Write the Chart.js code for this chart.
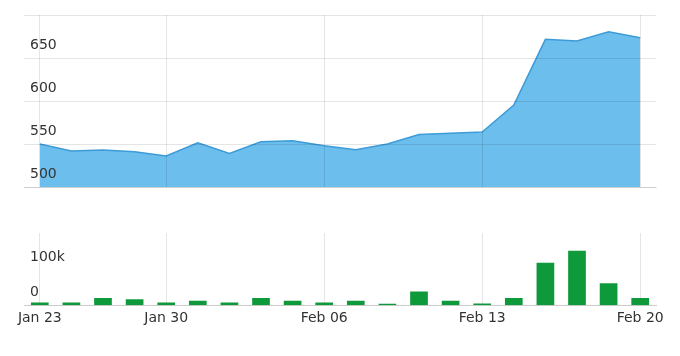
<!DOCTYPE html>
<html>
<head>
<meta charset="utf-8">
<script src="https://cdn.jsdelivr.net/npm/chart.js@4/dist/chart.umd.min.js"></script>
<style>
  html, body { margin: 0; padding: 0; background: #fff; }
  #wrap { position: relative; width: 680px; height: 356px; }
  #wrap canvas { position: absolute; left: 0; top: 0; }
</style>
</head>
<body>
<div id="wrap">
  <canvas id="price" width="680" height="356"></canvas>
  <canvas id="volume" width="680" height="356"></canvas>
</div>
<script>
// ---- data ----
const dates = ['Jan 23','Jan 24','Jan 25','Jan 26','Jan 30','Jan 31','Feb 01','Feb 02','Feb 03','Feb 06',
               'Feb 07','Feb 08','Feb 09','Feb 10','Feb 13','Feb 14','Feb 15','Feb 16','Feb 17','Feb 20'];
const xTickLabels = ['Jan 23','Jan 30','Feb 06','Feb 13','Feb 20'];
const prices = [550, 542, 543, 541, 536, 551.5, 539, 552.7, 553.8, 548,
                543.4, 550, 561, 562.4, 564, 595.3, 671.7, 669.8, 680.6, 673.6];
const volumes = [8000, 8000, 21000, 17000, 8000, 12500, 8000, 21000, 12500, 8000,
                 12500, 4000, 39500, 12500, 5000, 21000, 122000, 156000, 63000, 21000];
const priceTickLabels = [500, 550, 600, 650];
const volumeTickValues = [0, 100000, 200000];
const volumeTickLabels = ['0', '100k', ''];

// ---- style ----
const TEXT = '#333333';
const GRID = 'rgba(0,0,0,0.1)';
const isLabeled = (i) => xTickLabels.includes(dates[i]);
const W = 680, H = 356;
const LEFT = 24, RIGHT = 656;

Chart.defaults.animation = false;
Chart.defaults.font.family = 'DejaVu Sans';
Chart.defaults.font.size = 14;
Chart.defaults.color = TEXT;

new Chart(document.getElementById('price'), {
  type: 'line',
  data: {
    labels: dates,
    datasets: [{
      data: prices,
      borderColor: '#3d9bd8',
      backgroundColor: '#6cbeec',
      borderWidth: 1.5,
      pointRadius: 0,
      tension: 0,
      fill: 'start'
    }]
  },
  options: {
    responsive: false,
    layout: { padding: { left: LEFT, right: W - RIGHT, top: 15, bottom: H - 187 } },
    plugins: { legend: { display: false }, tooltip: { enabled: false } },
    scales: {
      x: {
        type: 'category',
        offset: true,
        grid: {
          offset: false,
          drawTicks: false,
          z: 1,
          color: (c) => isLabeled(c.index) ? GRID : 'rgba(0,0,0,0)'
        },
        border: { display: true, color: GRID, z: 1 },
        ticks: { display: false, autoSkip: false },
        afterFit: (s) => { s.height = 0; }
      },
      y: {
        min: 500, max: 700,
        grid: { drawTicks: false, color: GRID, z: 1 },
        border: { display: false },
        ticks: {
          stepSize: 50,
          autoSkip: false,
          mirror: true,
          padding: 6,
          labelOffset: -13,
          z: 2,
          color: TEXT,
          callback: (v) => priceTickLabels.includes(v) ? String(v) : ''
        },
        afterFit: (s) => { s.width = 0; }
      }
    }
  }
});

new Chart(document.getElementById('volume'), {
  type: 'bar',
  data: {
    labels: dates,
    datasets: [{
      data: volumes,
      backgroundColor: '#0e9a3b',
      borderWidth: 0,
      categoryPercentage: 1,
      barPercentage: 0.56
    }]
  },
  options: {
    responsive: false,
    layout: { padding: { left: LEFT, right: W - RIGHT, top: 233, bottom: 24 } },
    plugins: { legend: { display: false }, tooltip: { enabled: false } },
    scales: {
      x: {
        type: 'category',
        offset: true,
        grid: {
          offset: false,
          drawTicks: false,
          color: (c) => isLabeled(c.index) ? GRID : 'rgba(0,0,0,0)'
        },
        border: { display: true, color: '#cccccc' },
        ticks: {
          autoSkip: false,
          maxRotation: 0,
          padding: 5,
          color: TEXT,
          callback: (v, i) => isLabeled(i) ? dates[i] : ''
        }
      },
      y: {
        min: 0, max: 207000,
        grid: { display: false, drawTicks: false },
        border: { display: false },
        afterBuildTicks: (s) => { s.ticks = volumeTickValues.map(v => ({ value: v })); },
        ticks: {
          autoSkip: false,
          mirror: true,
          padding: 6,
          labelOffset: -13,
          color: TEXT,
          callback: (v) => volumeTickLabels[volumeTickValues.indexOf(v)] ?? ''
        },
        afterFit: (s) => { s.width = 0; }
      }
    }
  }
});
</script>
</body>
</html>
